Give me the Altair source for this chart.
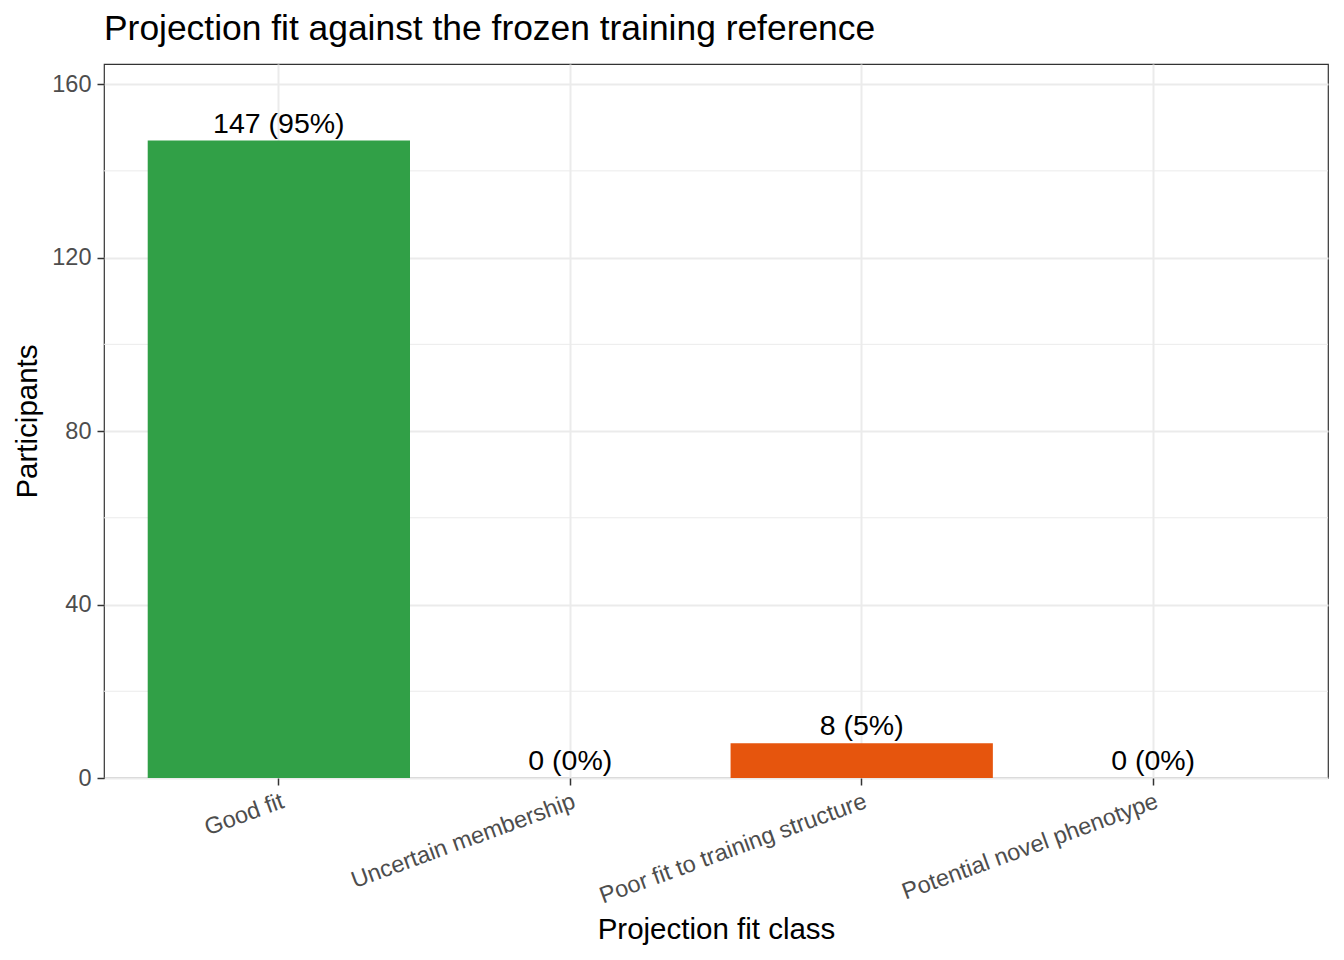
import altair as alt
import pandas as pd

categories = ["Good fit", "Uncertain membership", "Poor fit to training structure", "Potential novel phenotype"]
counts = [147, 0, 8, 0]
colors = ["#31A047", "#8C8C8C", "#E6550D", "#7B3294"]
minor_ticks = [20, 60, 100, 140]
major_ticks = [0, 40, 80, 120, 160]

total = sum(counts)
labels = [f"{c} ({round(100 * c / total)}%)" for c in counts]

df = pd.DataFrame({"cls": categories, "n": counts, "label": labels, "color": colors})
minor_df = pd.DataFrame({"v": minor_ticks})

FONT = "Liberation Sans"
ymax = max(counts) * 1.12

x_enc = alt.X(
    "cls:N",
    sort=categories,
    title="Projection fit class",
    scale=alt.Scale(paddingInner=0.1, paddingOuter=0.15),
    axis=alt.Axis(
        labelAngle=-20,
        labelAlign="right",
        labelBaseline="top",
        labelFontSize=23.5,
        labelColor="#4D4D4D",
        labelPadding=4,
        labelLimit=0,
        titleFontSize=29.5,
        titleFontWeight="normal",
        titleColor="#000000",
        titleY=160,
        titleBaseline="alphabetic",
        grid=True,
        gridColor="#EBEBEB",
        gridWidth=2,
        bandPosition=0.5,
        domain=False,
        tickColor="#333333",
        tickWidth=1.5,
        tickSize=7,
        labelOverlap=False,
    ),
)
y_scale = alt.Scale(domain=[0, ymax], nice=False, zero=True)
y_enc = alt.Y(
    "n:Q",
    title="Participants",
    scale=y_scale,
    axis=alt.Axis(
        values=major_ticks,
        labelFontSize=23.5,
        labelColor="#4D4D4D",
        labelPadding=6,
        titleFontSize=29.5,
        titleFontWeight="normal",
        titleColor="#000000",
        titlePadding=9,
        grid=True,
        gridColor="#EBEBEB",
        gridWidth=2,
        domain=False,
        tickColor="#333333",
        tickWidth=1.5,
        tickSize=7,
    ),
)

minor = alt.Chart(minor_df).mark_rule(color="#EBEBEB", strokeWidth=1).encode(
    y=alt.Y("v:Q", scale=y_scale)
)

bars = alt.Chart(df).mark_bar().encode(
    x=x_enc,
    y=y_enc,
    color=alt.Color("color:N", scale=None, legend=None),
)

text = alt.Chart(df).mark_text(
    font=FONT, fontSize=28.5, color="#000000", baseline="alphabetic", dy=-8
).encode(
    x=alt.X("cls:N", sort=categories),
    y=alt.Y("n:Q", scale=y_scale),
    text="label:N",
)

chart = (
    alt.layer(minor, bars, text)
    .properties(
        width=1224,
        height=714,
        title=alt.TitleParams(
            "Projection fit against the frozen training reference",
            anchor="start",
            frame="group",
            fontSize=35.4,
            fontWeight="normal",
            font=FONT,
            color="#000000",
            offset=17,
        ),
        autosize=alt.AutoSizeParams(type="none"),
        padding={"left": 96, "top": 56, "right": 8, "bottom": 174},
    )
    .configure(font=FONT)
    .configure_axis(labelFont=FONT, titleFont=FONT)
    .configure_view(stroke="#333333", strokeWidth=1.2)
)

chart.save("out.html", embed_options={"renderer": "svg", "actions": False})
